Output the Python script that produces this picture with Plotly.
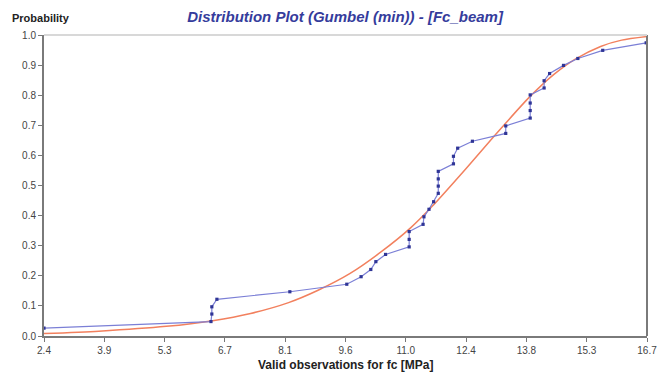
import numpy as np
import plotly.graph_objects as go

# Empirical CDF points (observations)
obs_x = [2.4, 6.36, 6.38, 6.38, 6.5, 8.23, 9.58, 9.92, 10.15, 10.27, 10.5, 11.06, 11.06, 11.06,
         11.39, 11.41, 11.53, 11.64, 11.75, 11.75, 11.75, 11.75, 12.11, 12.11, 12.21, 12.56,
         13.35, 13.35, 13.93, 13.93, 13.93, 13.93, 14.26, 14.26, 14.39, 14.72, 15.06, 15.65, 16.68]
obs_p = [0.026, 0.048, 0.073, 0.097, 0.122, 0.147, 0.172, 0.197, 0.221, 0.247, 0.271, 0.296,
         0.321, 0.347, 0.371, 0.396, 0.421, 0.446, 0.474, 0.498, 0.522, 0.547, 0.572, 0.597,
         0.624, 0.647, 0.673, 0.698, 0.724, 0.749, 0.774, 0.801, 0.824, 0.848, 0.872, 0.899,
         0.922, 0.949, 0.974]

# Fitted Gumbel (min) CDF
fit_x = [2.4, 3.7, 5.3, 6.4, 7.3, 8.2, 8.9, 9.65, 10.4, 11.1, 11.6, 12.4, 13.1, 13.9, 14.5,
         15.0, 15.6, 16.1, 16.7]
fit_p = [0.008, 0.016, 0.032, 0.051, 0.075, 0.111, 0.152, 0.207, 0.28, 0.36, 0.43, 0.555,
         0.668, 0.792, 0.87, 0.92, 0.962, 0.983, 0.995]

x_tick_labels = ["2.4", "3.9", "5.3", "6.7", "8.1", "9.6", "11.0", "12.4", "13.8", "15.3", "16.7"]
y_tick_labels = ["0.0", "0.1", "0.2", "0.3", "0.4", "0.5", "0.6", "0.7", "0.8", "0.9", "1.0"]

x_min, x_max = 2.4, 16.7

fig = go.Figure()
fig.add_trace(go.Scatter(
    x=fit_x, y=fit_p, mode="lines",
    line=dict(color="#f2805e", width=1.5, shape="spline", smoothing=0.7),
    hoverinfo="skip", showlegend=False))
fig.add_trace(go.Scatter(
    x=obs_x, y=obs_p, mode="lines+markers",
    line=dict(color="#7b7fd6", width=1.2),
    marker=dict(color="#2f3596", size=3.2, symbol="square"),
    showlegend=False))

tick_font = dict(family="Liberation Sans, Arial, sans-serif", size=10, color="#444444")

fig.update_xaxes(
    range=[x_min, x_max], automargin=False,
    tickvals=list(np.linspace(x_min, x_max, len(x_tick_labels))),
    ticktext=x_tick_labels,
    ticks="outside", ticklen=4, tickwidth=1, tickcolor="#777777",
    showline=True, linecolor="#7a7a7a", linewidth=2, mirror=False,
    showgrid=False, zeroline=False, tickfont=tick_font)
fig.update_yaxes(
    range=[0, 1.0], automargin=False,
    tickvals=[i / 10 for i in range(len(y_tick_labels))],
    ticktext=y_tick_labels,
    ticks="outside", ticklen=4, tickwidth=1, tickcolor="#777777",
    showline=True, linecolor="#7a7a7a", linewidth=2,
    showgrid=False, zeroline=False, tickfont=tick_font)

# right and top frame lines
fig.add_shape(type="line", xref="paper", yref="paper", x0=1, x1=1, y0=0, y1=1,
              line=dict(color="#7a7a7a", width=2))
fig.add_shape(type="line", xref="paper", yref="paper", x0=0, x1=1, y0=1, y1=1,
              line=dict(color="#d8d8d8", width=2))

fig.add_annotation(text="<b>Probability</b>", xref="paper", yref="paper",
                   x=-0.057, y=1.057, xanchor="left", yanchor="middle", showarrow=False,
                   font=dict(family="Liberation Sans, Arial", size=11, color="#222222"))
fig.add_annotation(text="<b>Valid observations for fc [MPa]</b>", xref="paper", yref="paper",
                   x=0.5, y=-0.097, xanchor="center", yanchor="middle", showarrow=False,
                   font=dict(family="Liberation Sans Narrow, Liberation Sans, Arial", size=12,
                             color="#222222"))

fig.update_layout(
    width=670, height=375,
    margin=dict(l=44, r=23, t=35, b=39),
    paper_bgcolor="white", plot_bgcolor="white",
    title=dict(text="<b><i>Distribution Plot (Gumbel (min)) - [Fc_beam]</i></b>",
               x=0.515, xanchor="center", y=0.955, yanchor="middle",
               font=dict(family="Liberation Sans, Arial", size=15, color="#353c9c")),
)

fig.write_html("out.html")
